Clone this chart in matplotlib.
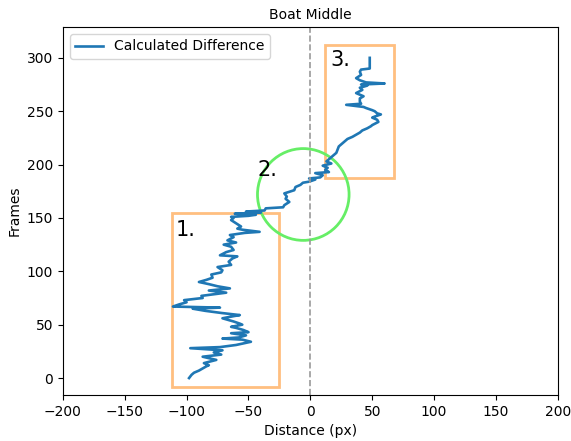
import matplotlib.pyplot as plt
from matplotlib.patches import Rectangle, Ellipse

frames = [0, 3, 5, 7, 9, 11, 12, 14, 17, 20, 22, 24, 26, 28, 29, 31, 33, 34, 36, 37,
          38, 40, 42, 43, 45, 47, 48, 50, 51, 53, 56, 58, 59, 61, 63, 65, 66, 67, 69, 71,
          73, 75, 77, 80, 82, 84, 86, 88, 90, 92, 94, 97, 99, 101, 104, 106, 109, 112, 114, 115,
          118, 120, 123, 125, 127, 129, 132, 134, 136, 137, 139, 140, 142, 145, 148, 150, 151, 152, 153, 154,
          155, 156, 157, 159, 160, 162, 165, 168, 170, 173, 176, 179, 181, 183, 184, 186, 187, 188, 190, 192,
          193, 195, 197, 199, 201, 203, 205, 208, 211, 214, 217, 220, 222, 224, 226, 228, 230, 232, 234, 236,
          237, 240, 242, 244, 245, 247, 248, 250, 251, 253, 254, 256, 257, 259, 262, 264, 267, 270, 272, 274,
          275, 276, 277, 279, 281, 284, 287, 289, 290, 293, 296, 300]
distance = [-98, -96, -94, -90, -87, -84, -82, -86, -76, -87, -72, -78, -71, -97, -73, -60, -52, -48, -55, -71,
            -58, -52, -64, -50, -54, -60, -64, -55, -57, -62, -71, -62, -57, -72, -85, -95, -73, -111, -106, -100,
            -102, -87, -88, -68, -82, -65, -75, -82, -90, -84, -79, -80, -72, -71, -75, -64, -66, -63, -59, -73,
            -68, -62, -64, -70, -60, -67, -62, -65, -53, -41, -55, -59, -56, -60, -64, -62, -64, -50, -44, -61,
            -40, -52, -37, -36, -22, -21, -17, -20, -19, -21, -13, -12, -8, -6, -1, 4, -1, 8, 10, 4,
            15, 12, 14, 10, 17, 13, 15, 18, 21, 22, 23, 26, 28, 30, 34, 37, 40, 42, 46, 49,
            50, 55, 54, 50, 52, 57, 54, 52, 50, 45, 43, 29, 41, 40, 40, 43, 37, 42, 40, 46,
            41, 60, 45, 40, 37, 41, 40, 41, 48, 48, 48, 48]

# regions drawn on top: (x0, y0, width, height)
box1 = (-112, -8, 87, 163)
box3 = (12, 187, 56, 125)
circle2 = (-5.7, 172, 74, 86)

fig = plt.figure(figsize=(5.71, 4.41), dpi=100)
ax = fig.add_axes([0.110, 0.104, 0.867, 0.835])

ax.plot(distance, frames, color='#1f77b4', lw=1.9, label='Calculated Difference')
ax.axvline(0, color='#999999', ls='--', lw=1.2)

for b in (box1, box3):
    ax.add_patch(Rectangle((b[0], b[1]), b[2], b[3], fill=False,
                           edgecolor='#ffbf80', lw=2))
ax.add_patch(Ellipse((circle2[0], circle2[1]), circle2[2], circle2[3], fill=False,
                     edgecolor='#66ee66', lw=2))

ax.text(-101, 139, '1.', fontsize=15, ha='center', va='center')
ax.text(-35, 195, '2.', fontsize=15, ha='center', va='center')
ax.text(24, 298, '3.', fontsize=15, ha='center', va='center')

ax.set_xlim(-200, 200)
ax.set_ylim(-16, 329)
ax.set_yticks([0, 50, 100, 150, 200, 250, 300])
ax.set_title('Boat Middle', fontsize=10)
ax.set_xlabel('Distance (px)')
ax.set_ylabel('Frames')
ax.legend(loc='upper left')

fig.savefig('out.png', dpi=100)
